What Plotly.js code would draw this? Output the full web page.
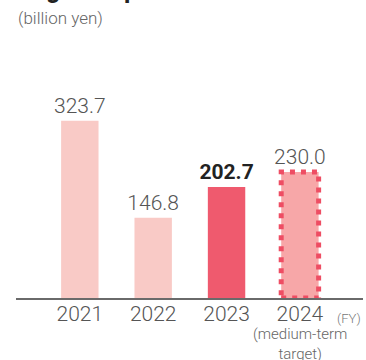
<!DOCTYPE html>
<html>
<head>
<meta charset="utf-8">
<script src="https://cdn.plot.ly/plotly-3.0.1.min.js"></script>
<style>html,body{margin:0;padding:0;background:#fff;}#chart{width:366px;height:360px;}</style>
</head>
<body>
<div id="chart"></div>
<script>
const years = ["2021", "2022", "2023", "2024"];
const values = [323.7, 146.8, 202.7, 230.0];
const valueLabels = ["323.7", "146.8", "<b>202.7</b>", "230.0"];
const barColors = ["#f9cac6", "#f9cac6", "#ef5a6e", "#f7a7a8"];
const labelColors = ["#555555", "#555555", "#222222", "#555555"];
const titleText = "Segment profit";
const unitText = "(billion yen)";
const fyText = "(FY)";
const targetNote = "(medium-term<br>target)";
const targetIndex = 3;

const barWidth = 0.51;
const FONT = "Roboto, 'Noto Sans', sans-serif";

const trace = {
  type: "bar",
  x: years,
  y: values,
  width: barWidth,
  marker: { color: barColors, line: { width: 0 } },
  text: valueLabels,
  textposition: "outside",
  constraintext: "none",
  cliponaxis: false,
  textfont: { family: FONT, size: 21, color: labelColors, weight: 300 },
  hoverinfo: "none"
};

const layout = {
  width: 366, height: 360,
  margin: { l: 16, r: 3, t: 79, b: 62 },
  paper_bgcolor: "#fff", plot_bgcolor: "#fff",
  showlegend: false,
  font: { family: FONT, color: "#555", weight: 300 },
  xaxis: {
    type: "category",
    range: [-0.87, 3.86],
    showline: true, linecolor: "#6a6a6a", linewidth: 1.5,
    showgrid: false, zeroline: false, ticks: "",
    ticklabelstandoff: -4,
    tickfont: { family: FONT, size: 21, color: "#555", weight: 300 },
    fixedrange: true
  },
  yaxis: {
    range: [0, 400],
    visible: false, showgrid: false, zeroline: false, fixedrange: true
  },
  shapes: [{
    type: "rect", xref: "x", yref: "y",
    x0: targetIndex - barWidth / 2, x1: targetIndex + barWidth / 2,
    y0: 0, y1: values[targetIndex],
    line: { color: "#ee4d63", width: 5, dash: "5px,6px" },
    fillcolor: "rgba(0,0,0,0)", layer: "above"
  }],
  annotations: [
    { text: "<b>" + titleText + "</b>", xref: "paper", yref: "paper", x: -0.003, y: 1.333,
      xanchor: "left", yanchor: "bottom", showarrow: false,
      font: { family: FONT, size: 25, color: "#222" } },
    { text: unitText, xref: "paper", yref: "paper", x: 0.0, y: (298 - 18) / 219,
      xanchor: "left", yanchor: "middle", showarrow: false,
      font: { family: FONT, size: 17, color: "#666", weight: 300 } },
    { text: fyText, xref: "paper", yref: "paper", x: 1.0, y: (298 - 318) / 219,
      xanchor: "right", yanchor: "middle", showarrow: false,
      font: { family: FONT, size: 13, color: "#777", weight: 300 } },
    { text: targetNote, xref: "x", yref: "paper", x: targetIndex, y: (298 - 344) / 219,
      xanchor: "center", yanchor: "middle", showarrow: false,
      font: { family: FONT, size: 15, color: "#666", weight: 300 } }
  ]
};

Plotly.newPlot("chart", [trace], layout, { staticPlot: true, displayModeBar: false });
</script>
</body>
</html>
